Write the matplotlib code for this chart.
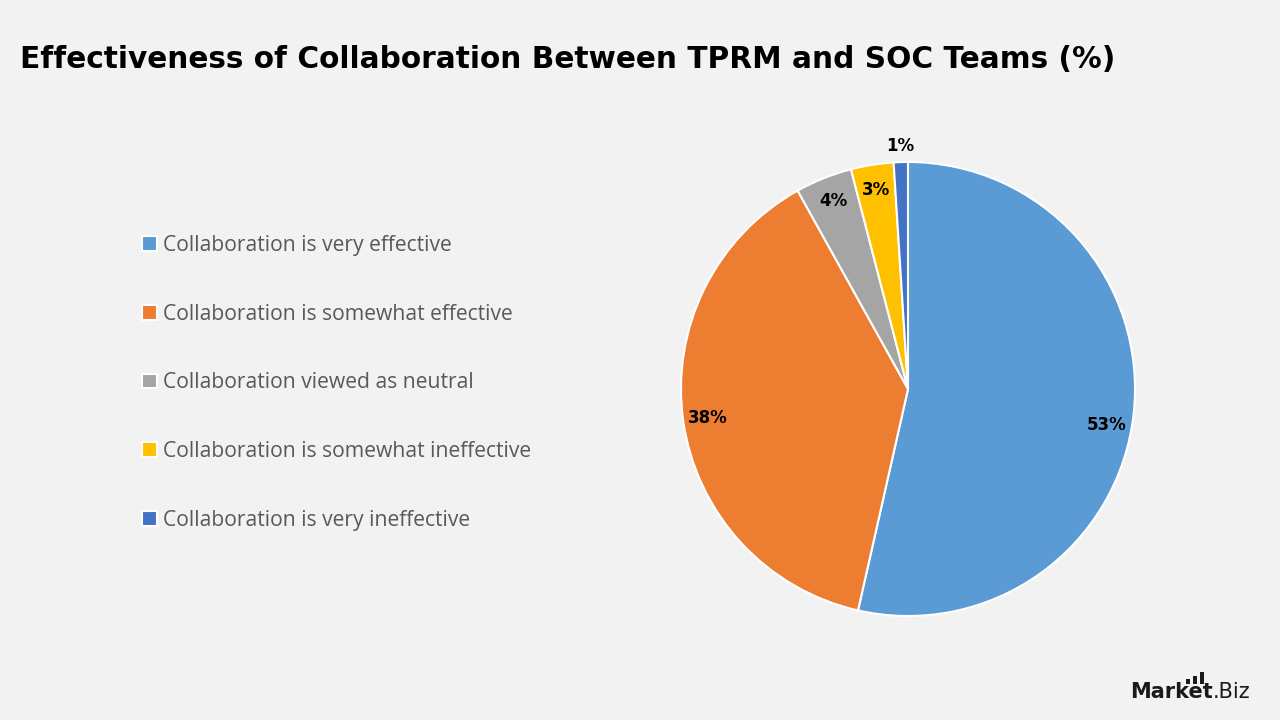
import matplotlib.pyplot as plt
from matplotlib.patches import Rectangle
import numpy as np

categories = ['Collaboration is very effective',
              'Collaboration is somewhat effective',
              'Collaboration viewed as neutral',
              'Collaboration is somewhat ineffective',
              'Collaboration is very ineffective']
shares = [53, 38, 4, 3, 1]
colors = ['#5B9BD5', '#ED7D31', '#A5A5A5', '#FFC000', '#4472C4']

bg = '#F2F2F2'
fig = plt.figure(figsize=(12.8, 7.2), dpi=100, facecolor=bg)

# pie
ax = fig.add_axes([681 / 1280, 104 / 720, 454 / 1280, 454 / 720])
ax.set_facecolor(bg)
wedges, _ = ax.pie(shares, colors=colors, startangle=90, counterclock=False,
                   wedgeprops=dict(edgecolor='white', linewidth=1.5))
ax.set_xlim(-1, 1)
ax.set_ylim(-1, 1)
ax.set_aspect('equal')
ax.axis('off')

# label placement tweaks (angle shift in deg)
lbl_shift = [-4, 0, 0, 0, 0]
for w, v, s in zip(wedges, shares, lbl_shift):
    mid = np.deg2rad((w.theta1 + w.theta2) / 2 + s)
    r = 1.07 if v < 2 else 0.89
    ax.text(r * np.cos(mid), r * np.sin(mid), '%d%%' % v, ha='center', va='center',
            fontsize=12, fontweight='bold', color='black', family='DejaVu Sans')

# legend
fig.legend(wedges, categories, loc='upper left', bbox_to_anchor=(123 / 1280, 1 - 216 / 720),
           frameon=False, labelcolor='#595959', labelspacing=2.26,
           handlelength=0.7, handleheight=0.7, handletextpad=0.3,
           prop={'family': 'Open Sans', 'size': 15.2})

# title
fig.text(20 / 1280, 1 - 60 / 720, 'Effectiveness of Collaboration Between TPRM and SOC Teams (%)',
         fontsize=21.3, fontweight='heavy', color='black', va='center', ha='left',
         family='DejaVu Sans')

# logo
fig.text(1130 / 1280, 1 - 698 / 720, 'Market', fontsize=15, fontweight='heavy',
         color='#1a1a1a', ha='left', va='baseline', family='DejaVu Sans')
fig.text(1213 / 1280, 1 - 698 / 720, '.Biz', fontsize=15, color='#1a1a1a',
         ha='left', va='baseline', family='DejaVu Sans')
for i, top in enumerate([679, 676, 672]):
    x0 = 1186 + i * 7
    fig.patches.append(Rectangle((x0 / 1280, 1 - 684 / 720), 4 / 1280, (684 - top) / 720,
                                 transform=fig.transFigure, color='#1a1a1a', lw=0))

plt.savefig('out.png', dpi=100, facecolor=bg)
